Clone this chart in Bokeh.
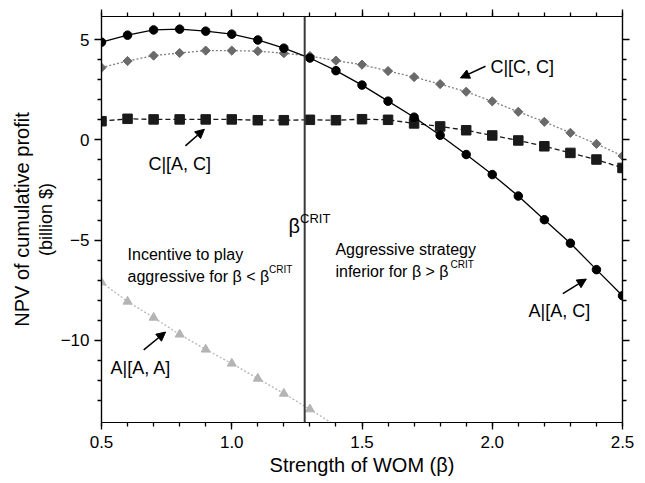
import numpy as np
from bokeh.plotting import figure
from bokeh.models import (Range1d, LinearAxis, SingleIntervalTicker, FixedTicker,
                          Span, Arrow, NormalHead, Label, PrintfTickFormatter,
                          CustomJSTickFormatter)
from bokeh.embed import file_html
from bokeh.resources import INLINE

# ---------------- data ----------------
beta = [0.5, 0.6, 0.7, 0.8, 0.9, 1.0, 1.1, 1.2, 1.3, 1.4, 1.5,
        1.6, 1.7, 1.8, 1.9, 2.0, 2.1, 2.2, 2.3, 2.4, 2.5]
a_given_ac = [4.87, 5.22, 5.48, 5.52, 5.42, 5.27, 4.98, 4.57, 4.08, 3.45, 2.73,
              1.93, 1.13, 0.23, -0.73, -1.73, -2.80, -3.98, -5.15, -6.47, -7.77]
c_given_cc = [3.60, 3.93, 4.20, 4.33, 4.45, 4.45, 4.42, 4.32, 4.18, 3.95, 3.75,
              3.43, 3.13, 2.78, 2.40, 1.92, 1.40, 0.90, 0.35, -0.20, -0.80]
c_given_ac = [0.93, 1.05, 1.02, 1.02, 1.02, 1.02, 0.98, 0.98, 1.00, 0.98, 1.03,
              1.00, 0.82, 0.67, 0.48, 0.22, -0.03, -0.32, -0.65, -0.98, -1.40]
beta_aa = [0.5, 0.6, 0.7, 0.8, 0.9, 1.0, 1.1, 1.2, 1.3, 1.4]
a_given_aa = [-7.10, -8.06, -8.86, -9.70, -10.45, -11.15, -11.90, -12.65, -13.43, -14.25]
beta_crit = 1.28

y_major = [-10, -5, 0, 5]
y_minor = [-13, -12, -11, -9, -8, -7, -6, -4, -3, -2, -1, 1, 2, 3, 4]
y_tick_text = {-10: "\u221210", -5: "\u22125", 0: "0", 5: "5"}

FONT = "Liberation Sans"
Y_MIN, Y_MAX = -14.09, 6.15

p = figure(width=645, height=483, x_range=Range1d(0.5, 2.5), y_range=Range1d(Y_MIN, Y_MAX),
           output_backend="svg", toolbar_location=None,
           min_border_left=101, min_border_right=23, min_border_top=16, min_border_bottom=61)
p.grid.visible = False
p.outline_line_color = "black"
p.outline_line_width = 1.2
p.background_fill_color = "white"
p.border_fill_color = "white"


def style_axis(ax, show_labels=True):
    ax.axis_line_color = "black"
    ax.axis_line_width = 1.2
    ax.major_tick_in = 0
    ax.major_tick_out = 7
    ax.minor_tick_in = 0
    ax.minor_tick_out = 4
    ax.major_tick_line_color = "black"
    ax.minor_tick_line_color = "black"
    ax.major_tick_line_width = 1.3
    ax.minor_tick_line_width = 1.3
    ax.major_label_text_font = FONT
    ax.major_label_text_color = "black"
    if show_labels:
        ax.major_label_text_font_size = "17px"
    else:
        ax.formatter = CustomJSTickFormatter(code="return '';")
        ax.major_label_text_font_size = "1px"
        ax.major_label_standoff = 0


# bottom axis
xb = p.xaxis[0]
xb.ticker = SingleIntervalTicker(interval=0.5, num_minor_ticks=5)
xb.formatter = PrintfTickFormatter(format="%.1f")
style_axis(xb)
xb.major_label_standoff = 6
xb.axis_label = "Strength of WOM (\u03b2)"
xb.axis_label_text_font = FONT
xb.axis_label_text_font_size = "20px"
xb.axis_label_text_font_style = "normal"
xb.axis_label_text_color = "black"
xb.axis_label_standoff = 3

# left axis (ticks)
yl = p.yaxis[0]
yl.ticker = FixedTicker(ticks=y_major, minor_ticks=y_minor)
yl.major_label_overrides = y_tick_text
style_axis(yl)
yl.major_label_standoff = 5

# extra left axes for the two-line label
ax_b = LinearAxis(ticker=FixedTicker(ticks=[]), axis_label="(billion $)")
ax_b.axis_line_alpha = 0
ax_b.major_tick_out = 0
ax_b.minor_tick_out = 0
ax_b.major_label_standoff = 0
ax_b.axis_label_standoff = 2
ax_b.axis_label_text_font = FONT
ax_b.axis_label_text_font_size = "18px"
ax_b.axis_label_text_font_style = "normal"
ax_b.axis_label_text_color = "black"
p.add_layout(ax_b, "left")

ax_n = LinearAxis(ticker=FixedTicker(ticks=[]), axis_label="NPV of cumulative profit")
ax_n.axis_line_alpha = 0
ax_n.major_tick_out = 0
ax_n.minor_tick_out = 0
ax_n.major_label_standoff = 0
ax_n.axis_label_standoff = 0
ax_n.axis_label_text_font = FONT
ax_n.axis_label_text_font_size = "20px"
ax_n.axis_label_text_font_style = "normal"
ax_n.axis_label_text_color = "black"
p.add_layout(ax_n, "left")

# top and right mirrored axes (ticks only)
xtop = LinearAxis(ticker=SingleIntervalTicker(interval=0.5, num_minor_ticks=5))
style_axis(xtop, show_labels=False)
p.add_layout(xtop, "above")
yright = LinearAxis(ticker=FixedTicker(ticks=y_major, minor_ticks=y_minor))
style_axis(yright, show_labels=False)
p.add_layout(yright, "right")

# critical beta line
p.add_layout(Span(location=beta_crit, dimension="height", line_color="#3a3a3a", line_width=2))

# series
aa_vis = [i for i, v in enumerate(a_given_aa) if v > Y_MIN]
p.line(beta_aa, a_given_aa, line_color="#b8b8b8", line_width=1.3, line_dash="2 2")
p.scatter([beta_aa[i] for i in aa_vis], [a_given_aa[i] for i in aa_vis], marker="triangle",
          size=9, fill_color="#b4b4b4", line_color="#b4b4b4")

p.line(beta, c_given_cc, line_color="#808080", line_width=1.3, line_dash="2 2")
p.scatter(beta, c_given_cc, marker="square", angle=np.pi / 4, size=6.5,
          fill_color="#6a6a6a", line_color="#6a6a6a")

p.line(beta, c_given_ac, line_color="#1a1a1a", line_width=1.3, line_dash="5 3")
p.scatter(beta, c_given_ac, marker="square", size=9.5, fill_color="#1a1a1a", line_color="#1a1a1a")

p.line(beta, a_given_ac, line_color="black", line_width=1.3)
p.scatter(beta, a_given_ac, marker="circle", size=8.5, fill_color="black", line_color="black")


def add_label(x, y, text, size, align="left", baseline="middle"):
    p.add_layout(Label(x=x, y=y, text=text, text_font=FONT, text_font_size=size,
                       text_color="black", text_align=align, text_baseline=baseline))


def add_arrow(x0, y0, x1, y1):
    p.add_layout(Arrow(end=NormalHead(size=9, fill_color="black", line_color="black", line_width=1),
                       x_start=x0, y_start=y0, x_end=x1, y_end=y1,
                       line_color="black", line_width=1.5))


# series labels + arrows
add_label(1.993, 3.62, "C|[C, C]", "18px")
add_arrow(1.974, 3.67, 1.878, 3.09)
add_label(0.680, -1.22, "C|[A, C]", "18px")
add_arrow(0.822, -0.30, 0.895, 0.53)
add_label(0.535, -11.39, "A|[A, A]", "18px")
add_arrow(0.662, -10.47, 0.746, -9.58)
add_label(2.139, -8.55, "A|[A, C]", "18px")
add_arrow(2.271, -7.67, 2.361, -6.94)

# beta crit label
add_label(1.218, -4.30, "\u03b2", "20px")
add_label(1.262, -3.90, "CRIT", "13px")

# region texts
add_label(0.600, -5.70, "Incentive to play", "16px")
add_label(0.600, -6.80, "aggressive for \u03b2 < \u03b2", "16px")
add_label(1.143, -6.475, "CRIT", "10px")
add_label(1.398, -5.45, "Aggressive strategy", "16px")
add_label(1.398, -6.55, "inferior for \u03b2 > \u03b2", "16px")
add_label(1.840, -6.225, "CRIT", "10px")

open("out.html", "w").write(file_html(p, INLINE))
